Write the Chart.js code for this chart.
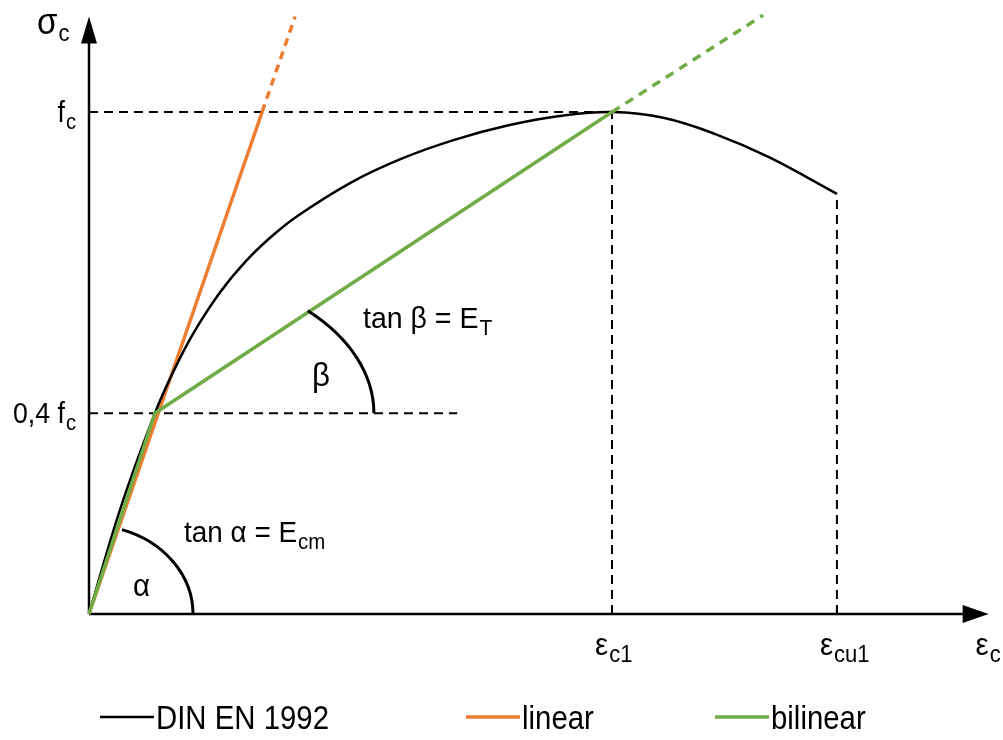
<!DOCTYPE html>
<html>
<head>
<meta charset="utf-8">
<script src="https://cdn.jsdelivr.net/npm/chart.js@4.4.1/dist/chart.umd.min.js"></script>
<style>
  body { margin: 0; background: #fff; }
  canvas { display: block; }
</style>
</head>
<body>
<canvas id="chart" width="1003" height="740"></canvas>
<script>
// strain in units of eps_c1, stress in units of f_c
var dinStrain = [0, 0.06, 0.126, 0.16, 0.2, 0.25, 0.3, 0.35, 0.4, 0.5, 0.6, 0.7, 0.8, 0.9, 1.0, 1.1, 1.2, 1.3, 1.43];
var dinStress = [0, 0.21, 0.40, 0.48, 0.56, 0.64, 0.703, 0.753, 0.794, 0.859, 0.908, 0.945, 0.973, 0.992, 1.0, 0.988, 0.955, 0.910, 0.837];

var linStrain = [0, 0.331, 0.394];
var linStress = [0, 1.0, 1.19];

var biStrain = [0, 0.126, 1.0, 1.289];
var biStress = [0, 0.4, 1.0, 1.193];

// marked values on the axes
var yTickValues = [1.0, 0.4];
var yTickLabels = [['f', 'c'], ['0,4 f', 'c']];
var xTickValues = [1.0, 1.43];
var xTickLabels = [['ε', 'c1'], ['ε', 'cu1']];

var seriesNames = ['DIN EN 1992', 'linear', 'bilinear'];
var seriesColors = ['#000000', '#ED7D31', '#70AD47'];

function pts(xs, ys) {
  return xs.map(function (x, i) { return { x: x, y: ys[i] }; });
}

var FONT = '"Liberation Sans", Arial, sans-serif';

function guide(data) {
  return {
    data: data, borderColor: '#000', borderWidth: 2, borderDash: [9, 6],
    pointRadius: 0, fill: false, order: 10
  };
}

// text squeezed horizontally by sx
function narrowText(ctx, txt, x, y, size, sx) {
  ctx.save();
  ctx.font = size + 'px ' + FONT;
  ctx.translate(x, y);
  ctx.scale(sx, 1);
  ctx.fillText(txt, 0, 0);
  ctx.restore();
  ctx.font = size + 'px ' + FONT;
  return ctx.measureText(txt).width * sx;
}

// text with a lowered subscript
function subText(ctx, main, sub, x, y, size, subSize, align, sx) {
  sx = sx || 1;
  ctx.font = size + 'px ' + FONT;
  var w1 = ctx.measureText(main).width * sx;
  ctx.font = subSize + 'px ' + FONT;
  var w2 = ctx.measureText(sub).width * sx;
  var left = align === 'right' ? x - w1 - w2 - 1 : x;
  ctx.textAlign = 'left';
  ctx.textBaseline = 'alphabetic';
  narrowText(ctx, main, left, y, size, sx);
  narrowText(ctx, sub, left + w1 + 1, y + 7, subSize, sx);
}

var sketch = {
  id: 'sketch',
  beforeDatasetsDraw: function (chart) {
    var ctx = chart.ctx, xs = chart.scales.x, ys = chart.scales.y;
    var x0 = xs.getPixelForValue(0), y0 = ys.getPixelForValue(0);
    var xEnd = xs.right, yEnd = ys.getPixelForValue(1.19);
    ctx.save();
    ctx.strokeStyle = '#000';
    ctx.fillStyle = '#000';
    ctx.lineWidth = 2.5;
    ctx.beginPath();
    ctx.moveTo(x0, y0); ctx.lineTo(xEnd - 20, y0);
    ctx.moveTo(x0, y0); ctx.lineTo(x0, yEnd + 20);
    ctx.stroke();
    // arrow heads
    ctx.beginPath();
    ctx.moveTo(xEnd, y0); ctx.lineTo(xEnd - 26, y0 - 9); ctx.lineTo(xEnd - 26, y0 + 9);
    ctx.closePath(); ctx.fill();
    ctx.beginPath();
    ctx.moveTo(x0, yEnd); ctx.lineTo(x0 - 8, yEnd + 27); ctx.lineTo(x0 + 8, yEnd + 27);
    ctx.closePath(); ctx.fill();
    ctx.restore();
  },
  afterDatasetsDraw: function (chart) {
    var ctx = chart.ctx, xs = chart.scales.x, ys = chart.scales.y;
    var x0 = xs.getPixelForValue(0), y0 = ys.getPixelForValue(0);
    ctx.save();
    ctx.strokeStyle = '#000';
    ctx.fillStyle = '#000';
    ctx.lineWidth = 3;

    // angle alpha at the origin
    ctx.beginPath();
    ctx.ellipse(x0, y0, 104, 89, 0, -1.248, 0);
    ctx.stroke();
    // angle beta at the kink of the bilinear line
    var bx = xs.getPixelForValue(biStrain[1]), by = ys.getPixelForValue(biStress[1]);
    ctx.beginPath();
    ctx.ellipse(bx, by, 219, 143, 0, -0.798, 0);
    ctx.stroke();

    // axis labels
    subText(ctx, 'σ', 'c', 37, 34, 36, 24, null, 0.92);
    subText(ctx, 'ε', 'c', xs.right - 13, y0 + 41, 32, 24, null, 0.92);

    yTickValues.forEach(function (v, i) {
      subText(ctx, yTickLabels[i][0], yTickLabels[i][1], 76, ys.getPixelForValue(v) + 10, 29, 22, 'right', 0.92);
    });
    xTickValues.forEach(function (v, i) {
      subText(ctx, xTickLabels[i][0], xTickLabels[i][1], xs.getPixelForValue(v) - 17, y0 + 41, 32, 24, null, 0.92);
    });
    // small ticks on the strain axis
    ctx.lineWidth = 2;
    xTickValues.forEach(function (v) {
      var px = xs.getPixelForValue(v);
      ctx.beginPath(); ctx.moveTo(px, y0); ctx.lineTo(px, y0 - 7); ctx.stroke();
    });

    // slope notes
    subText(ctx, 'tan α = E', 'cm', 184, 542, 30, 22, null, 0.93);
    subText(ctx, 'tan β = E', 'T', 363, 328, 30, 22, null, 0.95);
    ctx.textAlign = 'left';
    narrowText(ctx, 'α', 133, 596, 32, 0.92);
    narrowText(ctx, 'β', 312, 386, 34, 0.92);

    // legend
    var lx = [100, 466, 715];
    ctx.textBaseline = 'alphabetic';
    seriesNames.forEach(function (name, i) {
      ctx.strokeStyle = seriesColors[i];
      ctx.lineWidth = i === 0 ? 2.5 : 3.5;
      ctx.beginPath(); ctx.moveTo(lx[i], 717); ctx.lineTo(lx[i] + 54, 717); ctx.stroke();
      narrowText(ctx, name, lx[i] + 56, 729, 33, 0.89);
    });
    ctx.restore();
  }
};

new Chart(document.getElementById('chart'), {
  type: 'line',
  data: {
    datasets: [
      {
        label: seriesNames[2], data: pts(biStrain, biStress), borderColor: seriesColors[2],
        borderWidth: 3.5, pointRadius: 0, fill: false, order: 1, clip: false,
        segment: { borderDash: function (c) { return c.p0DataIndex >= 2 ? [9, 7] : undefined; } }
      },
      {
        label: seriesNames[0], data: pts(dinStrain, dinStress), borderColor: seriesColors[0],
        borderWidth: 2.5, pointRadius: 0, fill: false, order: 2, tension: 0.4
      },
      {
        label: seriesNames[1], data: pts(linStrain, linStress), borderColor: seriesColors[1],
        borderWidth: 3.5, pointRadius: 0, fill: false, order: 3, clip: false,
        segment: { borderDash: function (c) { return c.p0DataIndex >= 1 ? [8, 6] : undefined; } }
      },
      guide([{ x: 0, y: 1 }, { x: 1, y: 1 }]),
      guide([{ x: 1, y: 0 }, { x: 1, y: 1 }]),
      guide([{ x: 0, y: 0.4 }, { x: 0.704, y: 0.4 }]),
      guide([{ x: 1.43, y: 0 }, { x: 1.43, y: 0.837 }])
    ]
  },
  options: {
    responsive: false,
    animation: false,
    layout: { padding: { left: 89, right: 14.4, top: 11.6, bottom: 126 } },
    scales: {
      x: { type: 'linear', min: 0, max: 1.72, display: false },
      y: { type: 'linear', min: 0, max: 1.2, display: false }
    },
    plugins: { legend: { display: false }, tooltip: { enabled: false } }
  },
  plugins: [sketch]
});
</script>
</body>
</html>
